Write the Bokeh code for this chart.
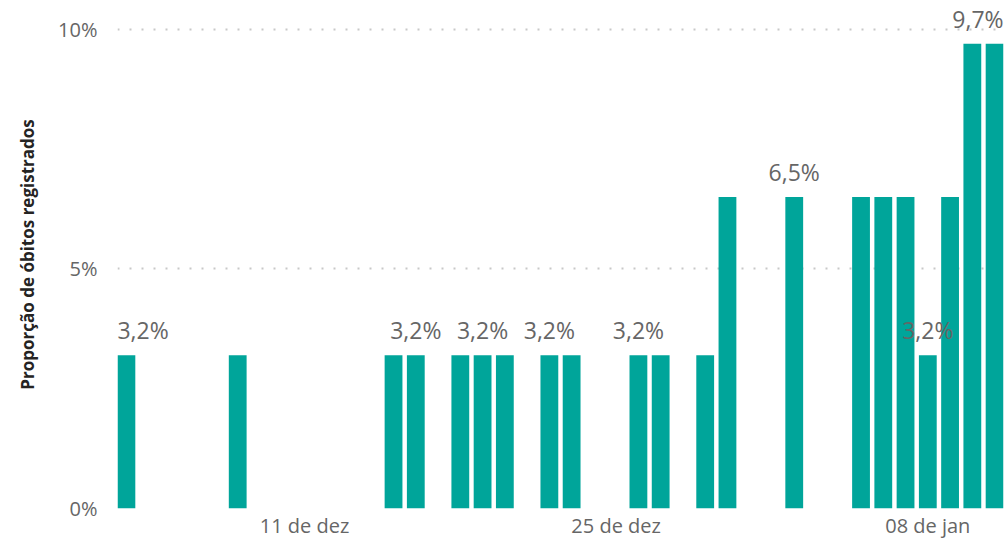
import pandas as pd
from bokeh.plotting import figure
from bokeh.models import ColumnDataSource, FixedTicker, Range1d, PrintfTickFormatter
from bokeh.core.properties import value
from bokeh.embed import file_html
from bokeh.resources import INLINE

# ---- data ----
dates = ["2020-12-03", "2020-12-08", "2020-12-15", "2020-12-16", "2020-12-18",
         "2020-12-19", "2020-12-20", "2020-12-22", "2020-12-23", "2020-12-26",
         "2020-12-27", "2020-12-29", "2020-12-30", "2021-01-02", "2021-01-05",
         "2021-01-06", "2021-01-07", "2021-01-08", "2021-01-09", "2021-01-10",
         "2021-01-11"]
shares = [3.2, 3.2, 3.2, 3.2, 3.2,
          3.2, 3.2, 3.2, 3.2, 3.2,
          3.2, 3.2, 6.5, 6.5, 6.5,
          6.5, 6.5, 3.2, 6.5, 9.7,
          9.7]
label_dates = ["2020-12-03", "2020-12-16", "2020-12-19", "2020-12-22",
               "2020-12-26", "2021-01-02", "2021-01-08", "2021-01-11"]
x_tick_dates = ["2020-12-11", "2020-12-25", "2021-01-08"]
x_tick_labels = ["11 de dez", "25 de dez", "08 de jan"]
y_ticks = [0, 5, 10]
y_title = "Proporção de óbitos registrados"

DAY = 86400000.0

def ms(d):
    return pd.Timestamp(d).value / 1e6

xs = [ms(d) for d in dates]
src = ColumnDataSource(dict(x=xs, top=shares))

# labels
lab_x, lab_y, lab_t, lab_align, lab_off = [], [], [], [], []
for i, d in enumerate(label_dates):
    v = shares[dates.index(d)]
    lab_x.append(ms(d))
    lab_y.append(v)
    lab_t.append(f"{v:.1f}".replace(".", ",") + "%")
    if i == 0:
        lab_align.append("left"); lab_off.append(-9)
    elif i == len(label_dates) - 1:
        lab_align.append("right"); lab_off.append(9)
    else:
        lab_align.append("center"); lab_off.append(0)
lsrc = ColumnDataSource(dict(x=lab_x, y=lab_y, t=lab_t, a=lab_align, o=lab_off))

p = figure(width=1008, height=541, output_backend="svg", toolbar_location=None,
           x_range=Range1d(xs[0] - 0.4 * DAY, xs[-1] + 0.4 * DAY),
           y_range=Range1d(0, 10.604),
           min_border_left=117, min_border_right=5, min_border_top=0,
           min_border_bottom=32)
p.outline_line_color = None
p.background_fill_color = "white"
p.border_fill_color = "white"

p.vbar(x="x", top="top", bottom=0, width=0.8 * DAY, source=src,
       fill_color="#00A59A", line_color=None)

p.text(x="x", y="y", text="t", source=lsrc, text_align="a", x_offset="o",
       y_offset=-25, text_baseline="alphabetic",
       text_font=value("Open Sans"), text_font_size="23px", text_color="#666666")

# grid
p.xgrid.visible = False
p.ygrid.ticker = FixedTicker(ticks=y_ticks)
p.ygrid.grid_line_color = "#c8c8c8"
p.ygrid.grid_line_width = 2
p.ygrid.grid_line_dash = "2 10"

# axes
p.yaxis.ticker = FixedTicker(ticks=y_ticks)
p.yaxis.formatter = PrintfTickFormatter(format="%d%%")
p.xaxis.ticker = FixedTicker(ticks=[ms(d) for d in x_tick_dates])
p.xaxis.major_label_overrides = {ms(d): l for d, l in zip(x_tick_dates, x_tick_labels)}
for ax in (p.xaxis, p.yaxis):
    ax.axis_line_color = None
    ax.major_tick_line_color = None
    ax.minor_tick_line_color = None
    ax.major_label_text_font = "Open Sans"
    ax.major_label_text_font_size = "20px"
    ax.major_label_text_color = "#666666"
p.yaxis.major_label_standoff = 14
p.xaxis.major_label_standoff = -3
p.yaxis.axis_label = y_title
p.yaxis.axis_label_text_font = "Open Sans"
p.yaxis.axis_label_text_font_style = "bold"
p.yaxis.axis_label_text_font_size = "17px"
p.yaxis.axis_label_text_color = "#252423"
p.yaxis.axis_label_standoff = 16

open("out.html", "w").write(file_html(p, INLINE))
